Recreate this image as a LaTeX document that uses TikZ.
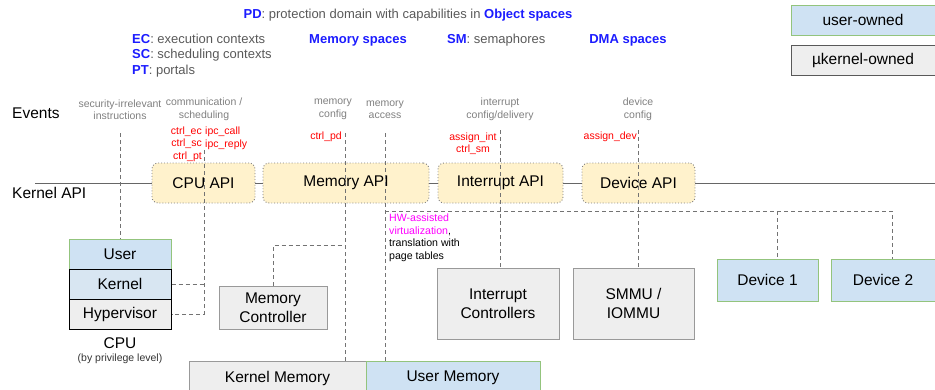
\documentclass[tikz,border=0pt]{standalone}
\usepackage{fontspec}
\setmainfont{Liberation Sans}

\definecolor{usrfill}{HTML}{CFE2F3}
\definecolor{usrline}{HTML}{93C47D}
\definecolor{krnfill}{HTML}{EEEEEE}
\definecolor{krnline}{HTML}{999999}
\definecolor{apifill}{HTML}{FFF2CC}
\definecolor{capblue}{HTML}{1C1CFF}
\definecolor{hwpink}{HTML}{FF00FF}
\definecolor{txtgray}{HTML}{595959}

\newcommand\bigfont{\fontsize{15.5}{19}\selectfont}
\newcommand\midfont{\fontsize{13}{15.5}\selectfont}
\newcommand\smallfont{\fontsize{10.5}{12.5}\selectfont}
\newcommand\capname[1]{\textcolor{capblue}{\bfseries #1}}

\tikzset{
  userbox/.style={draw=usrline, fill=usrfill, line width=1pt, font=\bigfont,
    inner sep=0pt, align=center},
  kernbox/.style={draw=krnline, fill=krnfill, line width=1pt, font=\bigfont,
    inner sep=0pt, align=center},
  apibox/.style={draw=gray, dotted, line width=0.9pt, fill=apifill, rounded corners=6pt,
    minimum height=40pt, font=\bigfont, inner sep=0pt},
  evtlabel/.style={text=gray, font=\smallfont, align=center, inner sep=0pt},
  calllabel/.style={text=red, font=\smallfont, inner sep=1pt},
  link/.style={draw=gray!90!black, line width=0.8pt, dash pattern=on 4pt off 3pt}
}

\begin{document}
\begin{tikzpicture}[x=1pt, y=-1pt]
\useasboundingbox (0,0) rectangle (935,389);

% capability spaces
\node (pd) at (408,15) {\midfont\capname{PD}\textcolor{txtgray}{: protection domain with capabilities in }\capname{Object spaces}};
\node[anchor=west, align=left, text=txtgray, font=\midfont, inner sep=0pt] (objs) at (132,55.5)
  {\capname{EC}: execution contexts\\\capname{SC}: scheduling contexts\\\capname{PT}: portals};
\node[font=\midfont] (memsp) at (358,40) {\capname{Memory spaces}};
\node[anchor=west, text=txtgray, font=\midfont, inner sep=0pt] (sm) at (447,40) {\capname{SM}: semaphores};
\node[font=\midfont] (dmasp) at (628,40) {\capname{DMA spaces}};

% legend
\node[userbox, minimum width=144pt, minimum height=30pt] (leguser) at (863,20) {user-owned};
\node[kernbox, draw=gray!70!black, minimum width=144pt, minimum height=30pt] (legkern) at (863,60) {µkernel-owned};

% rows
\node[anchor=west, font=\bigfont, inner sep=0pt] (events) at (12,113) {Events};
\node[anchor=west, font=\bigfont, inner sep=0pt] (kapi) at (12,193) {Kernel API};

\node[evtlabel] (ev1) at (120,109.5) {security-irrelevant\\instructions};
\node[evtlabel] (ev2) at (204,109.5) {communication /\\scheduling};
\node[evtlabel] (ev3) at (333,109.5) {memory\\config};
\node[evtlabel] (ev4) at (385,109.5) {memory\\access};
\node[evtlabel] (ev5) at (500,109.5) {interrupt\\config/delivery};
\node[evtlabel] (ev6) at (638,109.5) {device\\config};

% kernel API
\coordinate (apil) at (35,183);
\coordinate (apir) at (935,183);
\node[apibox, minimum width=103pt] (cpuapi) at (203.5,183) {CPU API};
\node[apibox, minimum width=166pt] (memapi) at (346,183) {Memory API};
\node[apibox, minimum width=125pt] (intapi) at (500.5,183) {Interrupt API};
\node[apibox, minimum width=113pt] (devapi) at (638.5,183) {Device API};
\draw[gray!80!black, line width=0.8pt] (apil) -- (cpuapi) -- (memapi) -- (intapi) -- (devapi) -- (apir);

\node[calllabel, anchor=east, align=right] (ctrlcpu) at (203,144) {ctrl\_ec\\ctrl\_sc\\ctrl\_pt};
\node[calllabel, anchor=west, align=left] (ipc) at (204,138.5) {ipc\_call\\ipc\_reply};
\node[calllabel, anchor=east] (ctrlpd) at (343,137) {ctrl\_pd};
\node[calllabel, align=center] (asgint) at (473,143.5) {assign\_int\\ctrl\_sm};
\node[calllabel, anchor=east] (asgdev) at (638,137) {assign\_dev};

\node[anchor=north west, align=left, font=\fontsize{10.6}{12.4}\selectfont, inner sep=0pt] (hwvirt) at (389,214)
  {\textcolor{hwpink}{HW-assisted}\\\textcolor{hwpink}{virtualization},\\translation with\\page tables};

% hardware
\node[userbox, minimum width=102pt, minimum height=30pt] (cpuuser) at (120,254) {User};
\node[userbox, draw=black, fill=usrfill!70!krnfill, minimum width=102pt, minimum height=30pt] (cpukern) at (120,284) {Kernel};
\node[kernbox, draw=black, minimum width=102pt, minimum height=30pt] (cpuhyp) at (120,314) {Hypervisor};
\node[font=\bigfont, inner sep=0pt] (cpu) at (120,343) {CPU};
\node[evtlabel, text=black!80] (cpupriv) at (120,359) {(by privilege level)};

\node[kernbox, minimum width=108pt, minimum height=43pt] (memctrl) at (273,307.5) {Memory\\Controller};
\node[kernbox, minimum width=177pt, minimum height=34pt] (kmem) at (277.5,378) {Kernel Memory};
\node[userbox, minimum width=174pt, minimum height=34pt] (umem) at (453,378) {User Memory};
\node[kernbox, minimum width=122pt, minimum height=71pt] (intctrl) at (498,303.5) {Interrupt\\Controllers};
\node[kernbox, minimum width=121pt, minimum height=71pt] (smmu) at (633.5,303.5) {SMMU /\\IOMMU};
\node[userbox, minimum width=101pt, minimum height=42pt] (dev1) at (767.5,280) {Device 1};
\node[userbox, minimum width=104pt, minimum height=42pt] (dev2) at (883,280) {Device 2};

% event paths
\coordinate (t1) at (120,133);
\coordinate (t2) at (204,150);
\coordinate (t3) at (345,133);
\coordinate (t4) at (385,133);
\coordinate (t5) at (500,130);
\coordinate (t6) at (638,130);
\coordinate (mcj) at (345,245);
\coordinate (dmaj) at (385,211);
\coordinate (d1) at (777,211);
\coordinate (d2) at (892,211);

\draw[link] (t1) -- (cpuuser);
\draw[link] (t2) |- (cpuhyp.east);
\draw[link] (cpukern.east) -- (cpukern.east -| t2);
\draw[link] (t3) -- (t3 |- kmem.north);
\draw[link] (memctrl) |- (mcj);
\draw[link] (t4) -- (t4 |- umem.north);
\draw[link] (dmaj) -- (d2) -- (d2 |- dev2.north);
\draw[link] (d1) -- (d1 |- dev1.north);
\draw[link] (t5) -- (t5 |- intctrl.north);
\draw[link] (t6) -- (t6 |- smmu.north);

\end{tikzpicture}
\end{document}
